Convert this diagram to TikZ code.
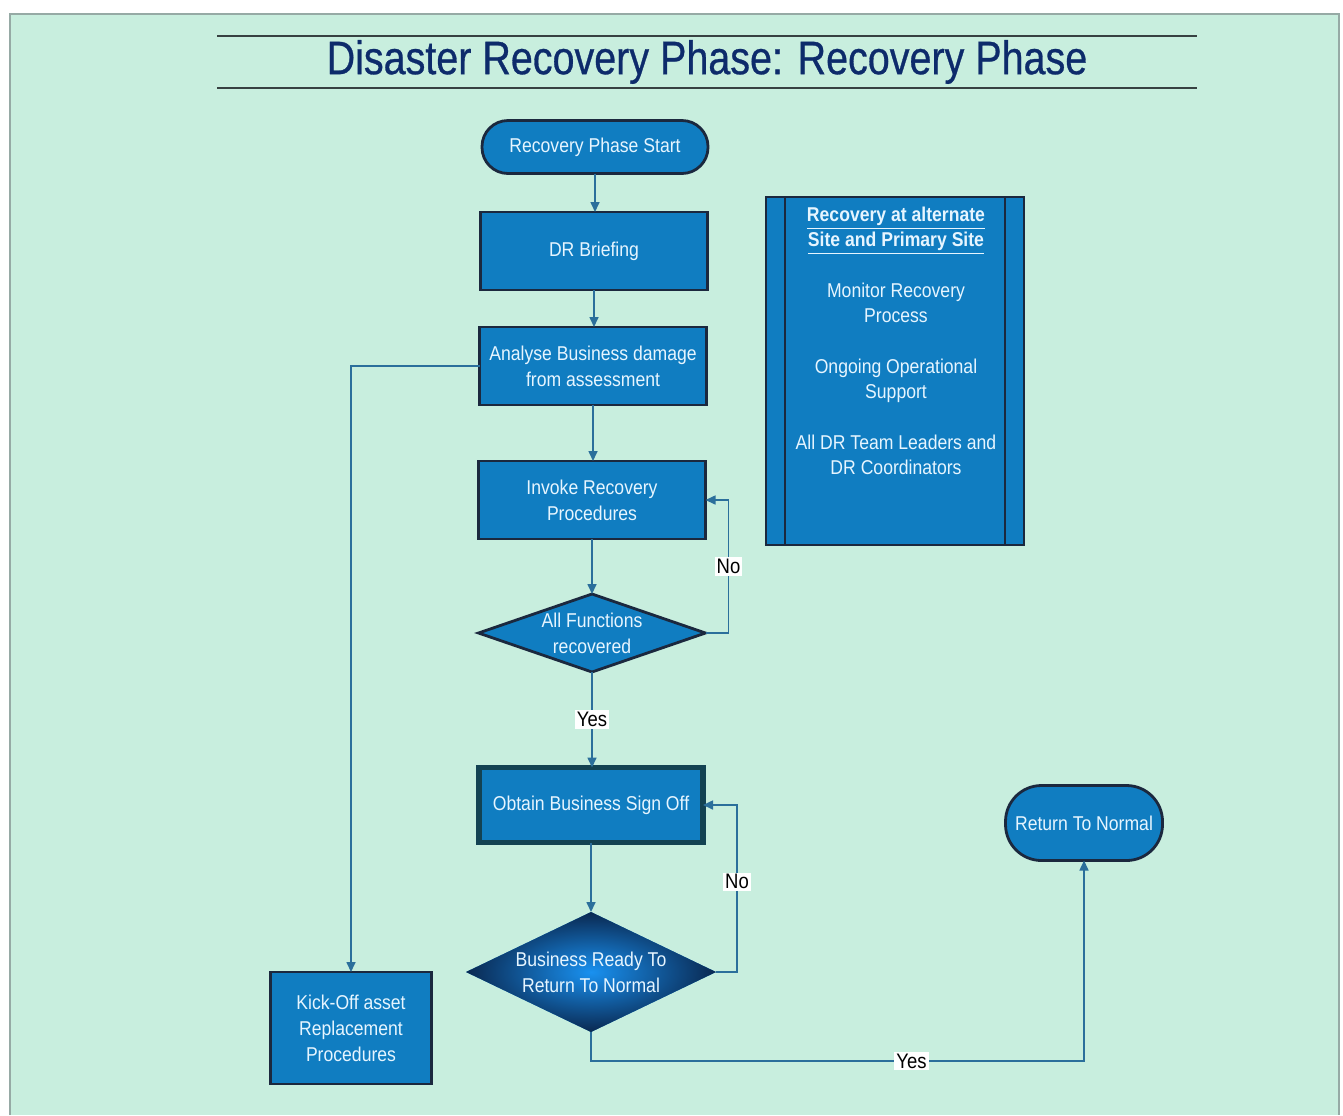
\documentclass[tikz,border=0pt]{standalone}
\usepackage{fontspec}
\setmainfont{Liberation Sans}[FakeStretch=0.88]
\newfontfamily\titlefont{Liberation Sans}[FakeStretch=0.84,FakeBold=0.6]
\usetikzlibrary{shapes.geometric,arrows.meta}
\definecolor{bgc}{RGB}{200,238,222}
\definecolor{edgec}{RGB}{150,170,165}
\definecolor{boxc}{RGB}{16,125,193}
\definecolor{bordc}{RGB}{27,40,62}
\definecolor{txtc}{RGB}{230,245,255}
\definecolor{titlec}{RGB}{13,43,107}
\definecolor{connc}{RGB}{43,111,155}
\definecolor{rulec}{RGB}{55,65,65}
\begin{document}
\begin{tikzpicture}[x=0.5pt,y=-0.5pt,
  proc/.style={draw=bordc, line width=1.4pt, fill=boxc, text=txtc,
    font=\fontsize{10}{13}\selectfont, align=center,
    minimum width=113.5pt, minimum height=39pt, inner sep=0pt, outer sep=0pt},
  term/.style={proc, rounded corners=13pt, minimum height=26.5pt},
  dec/.style={proc, diamond},
  conn/.style={draw=connc, line width=0.8pt, -{Triangle[length=5pt,width=4.5pt]}},
  lbl/.style={fill=white, text=black, inner sep=1pt, font=\fontsize{10.5}{12}\selectfont}]
\useasboundingbox (0,0) rectangle (1343,1115);
\fill[white] (0,0) rectangle (1343,1115);
\fill[bgc] (10,14) rectangle (1340,1115);
\draw[edgec, line width=0.8pt] (10,1115) -- (10,14) -- (1339,14) -- (1339,1115);
% title
\draw[rulec, line width=0.8pt] (217,36) -- (1197,36);
\draw[rulec, line width=0.8pt] (217,88) -- (1197,88);
\node[font=\titlefont\fontsize{23.5}{28}\selectfont, text=titlec] (title) at (707,62) {Disaster Recovery Phase: Recovery Phase};
% main column
\node[term, minimum width=113pt] (start) at (595,147) {Recovery Phase Start};
\node[proc] (brief) at (594,251) {DR Briefing};
\node[proc] (anal) at (593,366) {Analyse Business damage\\from assessment};
\node[proc] (inv) at (592,500) {Invoke Recovery\\Procedures};
\node[dec, shape aspect=2.9, minimum width=113.5pt, minimum height=39pt] (allf) at (592,633) {All Functions\\recovered};
\node[proc, draw=bordc!70!teal, line width=2.6pt, minimum width=112pt, minimum height=37.5pt] (obt) at (591,805) {Obtain Business Sign Off};
\node[dec, shape aspect=2.08, minimum width=125pt, minimum height=60pt, draw=none,
  shading=radial, inner color={rgb,255:red,25;green,145;blue,240}, outer color={rgb,255:red,10;green,40;blue,80}] (bizr) at (591,972) {Business Ready To\\Return To Normal};
\node[proc, minimum width=80.5pt, minimum height=56pt] (kick) at (351,1028) {Kick-Off asset\\Replacement\\Procedures};
\node[term, minimum width=78.5pt, minimum height=37.5pt, rounded corners=18pt] (ret) at (1084,823) {Return To Normal};
% side box
\node[proc, minimum width=129pt, minimum height=174pt] (rbox) at (895,371) {};
\draw[bordc, line width=1.4pt] ([xshift=9.5pt]rbox.north west) -- ([xshift=9.5pt]rbox.south west);
\draw[bordc, line width=1.4pt] ([xshift=-9.5pt]rbox.north east) -- ([xshift=-9.5pt]rbox.south east);
\node[text=txtc, align=center, font=\fontsize{10}{12.5}\selectfont] (rtext) at (896,341)
  {\textbf{\underline{Recovery at alternate}}\\\textbf{\underline{Site and Primary Site}}\\[13pt]
   Monitor Recovery\\Process\\[13pt]
   Ongoing Operational\\Support\\[13pt]
   All DR Team Leaders and\\DR Coordinators};
% connectors
\draw[conn] (start.south) -- (start.south |- brief.north);
\draw[conn] (brief.south) -- (brief.south |- anal.north);
\draw[conn] (anal.south) -- (anal.south |- inv.north);
\draw[conn] (inv.south) -- (inv.south |- allf.north);
\draw[conn] (allf.south) -- node[lbl] {Yes} (allf.south |- obt.north);
\draw[conn] (allf.east) -- ++(23,0) |- node[lbl, pos=0.25] {No} (inv.east);
\draw[conn] (obt.south) -- (obt.south |- bizr.north);
\draw[conn] (bizr.east) -- ++(21,0) |- node[lbl, pos=0.27] {No} (obt.east);
\draw[conn] (bizr.south) -- ++(0,29) -| node[lbl, pos=0.325] {Yes} (ret.south);
\draw[conn] (anal.west) -| (kick.north);
\end{tikzpicture}
\end{document}
